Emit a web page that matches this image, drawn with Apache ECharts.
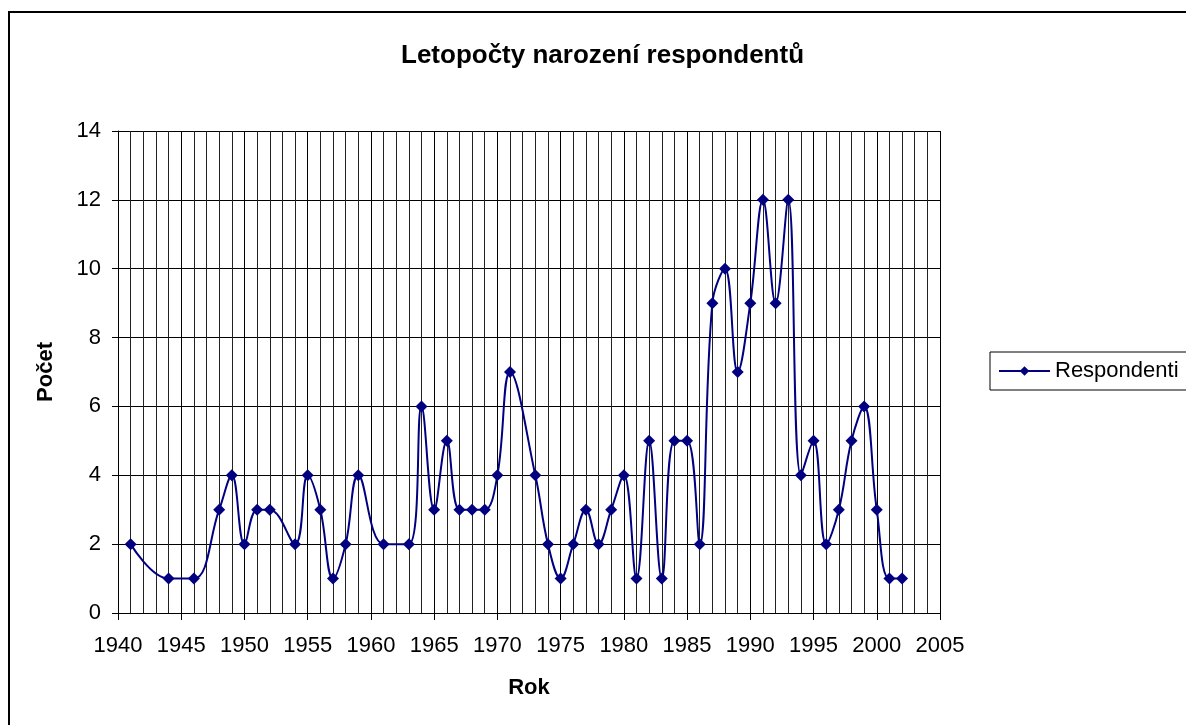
<!DOCTYPE html>
<html>
<head>
<meta charset="utf-8">
<script src="https://cdn.jsdelivr.net/npm/echarts@6/dist/echarts.min.js"></script>
<style>
html,body{margin:0;padding:0;background:#fff;}
#chart{width:1186px;height:725px;}
</style>
</head>
<body>
<div id="chart"></div>
<script>
const years = [1941,1944,1946,1948,1949,1950,1951,1952,1954,1955,1956,1957,1958,1959,1961,1963,1964,1965,1966,1967,1968,1969,1970,1971,1973,1974,1975,1976,1977,1978,1979,1980,1981,1982,1983,1984,1985,1986,1987,1988,1989,1990,1991,1992,1993,1994,1995,1996,1997,1998,1999,2000,2001,2002];
const counts = [2,1,1,3,4,2,3,3,2,4,3,1,2,4,2,2,6,3,5,3,3,3,4,7,4,2,1,2,3,2,3,4,1,5,1,5,5,2,9,10,7,9,12,9,12,4,5,2,3,5,6,3,1,1];
const seriesName = 'Respondenti';
const titleText = 'Letopočty narození respondentů';
const xName = 'Rok';
const yName = 'Počet';

const chart = echarts.init(document.getElementById('chart'), null, {renderer:'canvas'});
const font = 'Liberation Sans, Arial, sans-serif';
chart.setOption({
  animation:false,
  backgroundColor:'#fff',
  title:{text:titleText,left:396,top:38,
    textStyle:{fontFamily:font,fontSize:26,fontWeight:'bold',color:'#000'}},
  graphic:[{type:'rect',shape:{x:9,y:12,width:1300,height:900},
    style:{fill:null,stroke:'#000',lineWidth:2},silent:true}],
  legend:{left:990,top:352,orient:'vertical',data:[seriesName],
    itemWidth:51,itemHeight:12,itemGap:0,
    padding:[8,10,8,8],
    borderColor:'#000',borderWidth:1,backgroundColor:'#fff',
    textStyle:{fontFamily:font,fontSize:22,color:'#000'}},
  grid:{left:118,top:131,width:822,height:482,containLabel:false},
  xAxis:{type:'value',min:1940,max:2005,interval:5,
    name:xName,nameLocation:'middle',nameGap:64,
    nameTextStyle:{fontFamily:font,fontSize:22,fontWeight:'bold',color:'#000'},
    axisLine:{lineStyle:{color:'#000',width:1}},
    axisTick:{show:true,length:7,inside:false,lineStyle:{color:'#000'}},
    axisLabel:{fontFamily:font,fontSize:22,color:'#000',margin:22,
      formatter:v=>String(v)},
    splitLine:{show:true,lineStyle:{color:'#000',width:1}},
    minorTick:{show:false,splitNumber:5},
    minorSplitLine:{show:true,lineStyle:{color:'#222',width:1}}},
  yAxis:{type:'value',min:0,max:14,interval:2,
    name:yName,nameLocation:'middle',nameGap:61,nameRotate:90,
    nameTextStyle:{fontFamily:font,fontSize:22,fontWeight:'bold',color:'#000'},
    axisLine:{show:true,lineStyle:{color:'#000',width:1}},
    axisTick:{show:true,length:6,lineStyle:{color:'#000'}},
    axisLabel:{fontFamily:font,fontSize:22,color:'#000',margin:17},
    splitLine:{show:true,lineStyle:{color:'#000',width:1}}},
  series:[{name:seriesName,type:'line',smooth:0.4,smoothConstraint:false,
    data:years.map((y,i)=>[y,counts[i]]),
    symbol:'diamond',symbolSize:12,
    lineStyle:{color:'#000080',width:2},
    itemStyle:{color:'#000080'},
    z:5}]
});
</script>
</body>
</html>
